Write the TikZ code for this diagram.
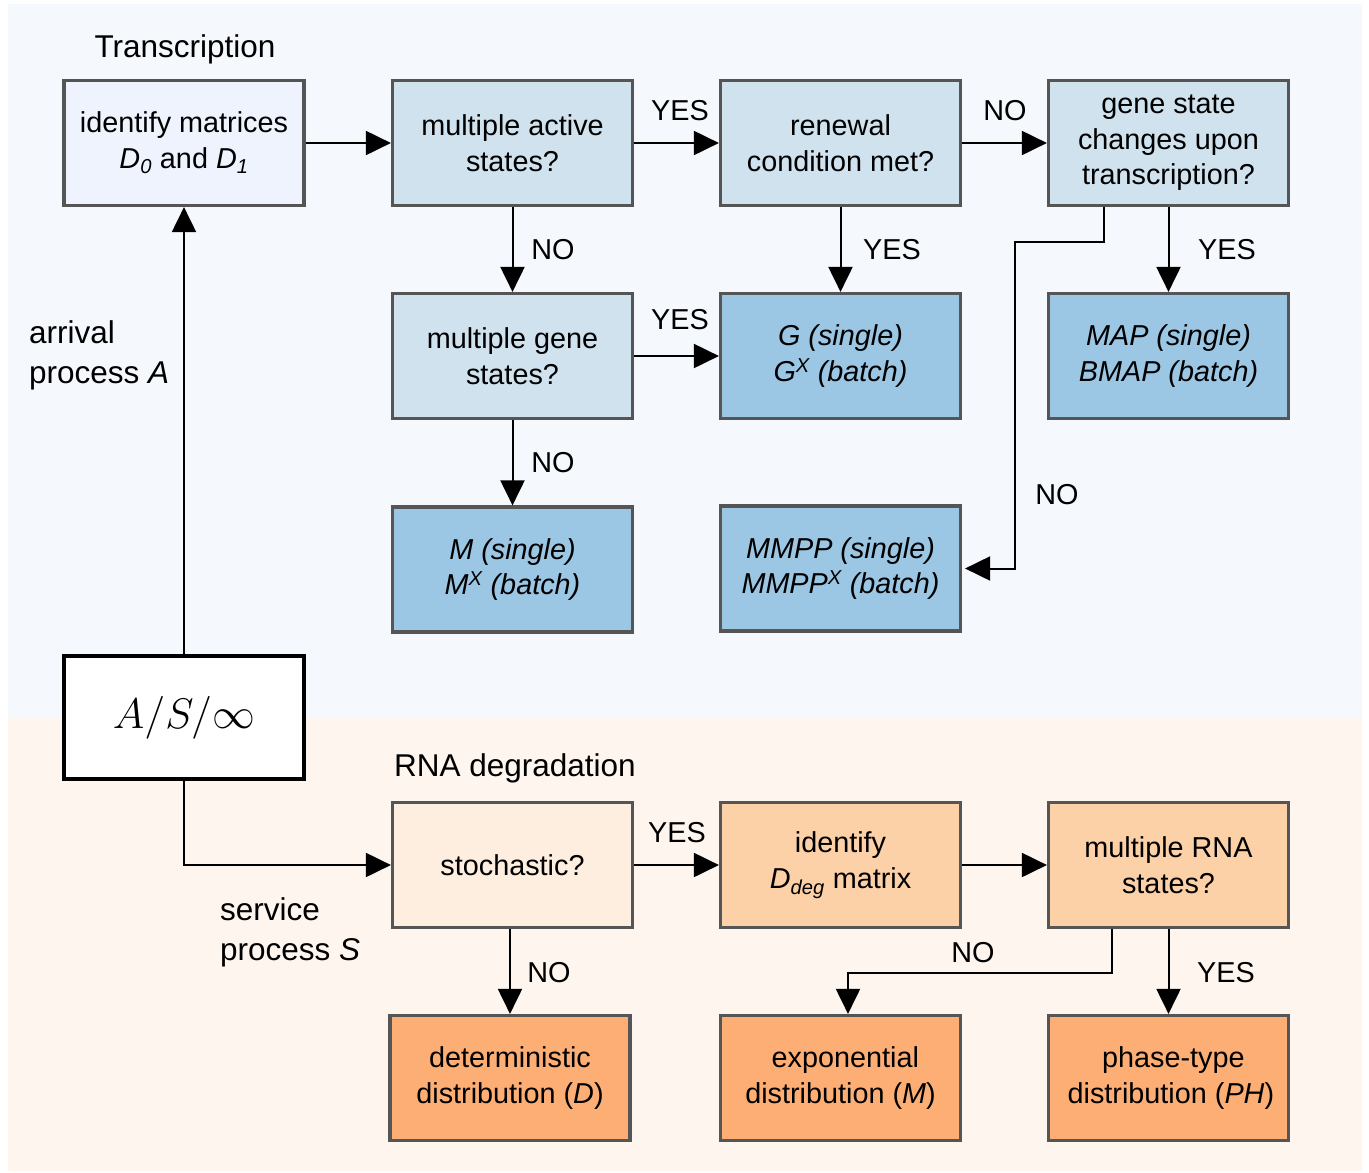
\documentclass[tikz,border=0pt]{standalone}
\usepackage[no-math]{fontspec}
\setmainfont{Liberation Sans}
\usetikzlibrary{arrows.meta}
\definecolor{bgtop}{HTML}{F5F8FD}
\definecolor{bgbot}{HTML}{FDF5EE}
\definecolor{bordergray}{HTML}{555555}
\definecolor{cpale}{HTML}{EEF3FD}
\definecolor{cqblue}{HTML}{D0E2EE}
\definecolor{crblue}{HTML}{9BC6E4}
\definecolor{cpaleor}{HTML}{FDEEDF}
\definecolor{cqor}{HTML}{FDD1A8}
\definecolor{cror}{HTML}{FDAE75}
\newcommand\myfont{\fontsize{28.8}{35.5}\selectfont}
\newcommand\myfontL{\fontsize{31.5}{40}\selectfont}
\begin{document}
\begin{tikzpicture}[x=1pt,y=-1pt,
  box/.style={draw=bordergray, line width=3.2pt, minimum width=240pt, minimum height=125pt, align=center, inner sep=0pt, font=\myfont},
  pale/.style={box, fill=cpale},
  qb/.style={box, fill=cqblue},
  rb/.style={box, fill=crblue},
  po/.style={box, fill=cpaleor},
  qo/.style={box, fill=cqor},
  ro/.style={box, fill=cror},
  arr/.style={line width=2pt, -{Triangle[length=25pt,width=24pt]}},
  lbl/.style={font=\myfont, inner sep=0pt},
  ttl/.style={font=\myfontL, inner sep=0pt, align=left}]
\useasboundingbox (0,0) rectangle (1369,1173);
\fill[bgtop] (8,4) rectangle (1362,718);
\fill[bgbot] (8,718) rectangle (1362,1171);

% titles
\node[ttl] (ttrans) at (185,49) {Transcription};
\node[ttl] (tdeg) at (515,768) {RNA degradation};
\node[ttl, anchor=west] (tarr) at (29,355) {arrival\\process \textit{A}};
\node[ttl, anchor=west] (tserv) at (220,932) {service\\process \textit{S}};

% boxes
\node[pale] (dmat) at (184,143) {identify matrices\\\textit{D\textsubscript{0}} and \textit{D\textsubscript{1}}};
\node[qb] (active) at (512.5,143) {multiple active\\states?};
\node[qb] (renew) at (840.5,143) {renewal\\condition met?};
\node[qb] (gstate) at (1168.5,143) {gene state\\changes upon\\transcription?};
\node[qb] (mgene) at (512.5,356) {multiple gene\\states?};
\node[rb] (G) at (840.5,356) {\textit{G (single)}\\\textit{G\textsuperscript{X} (batch)}};
\node[rb] (MAP) at (1168.5,356) {\textit{MAP (single)}\\\textit{BMAP (batch)}};
\node[rb] (M) at (512.5,569.5) {\textit{M (single)}\\\textit{M\textsuperscript{X} (batch)}};
\node[rb] (MMPP) at (840.5,568.5) {\textit{MMPP (single)}\\\textit{MMPP\textsuperscript{X} (batch)}};
\node[draw=black, fill=white, line width=4.5pt, minimum width=240pt, minimum height=123pt, inner sep=0pt] (AS) at (184,717.5) {\scalebox{1.72}{\Huge $A/S/\infty$}};
\node[po] (stoch) at (512.5,865) {stochastic?};
\node[qo] (ident) at (840.5,865) {identify\\\textit{D\textsubscript{deg}} matrix};
\node[qo] (mrna) at (1168.5,865) {multiple RNA\\states?};
\node[ro] (det) at (510,1078) {deterministic\\distribution (\textit{D})};
\node[ro] (expo) at (840.5,1078) {\,\,exponential\\distribution (\textit{M})};
\node[ro] (ph) at (1168.5,1078) {\,\,phase-type\\\,distribution (\textit{PH})};

% connectors
\draw[arr] (dmat) -- (active);
\draw[arr] (active) -- (renew);
\draw[arr] (renew) -- (gstate);
\draw[arr] (active) -- (mgene);
\draw[arr] (renew) -- (G);
\draw[arr] (gstate) -- (MAP);
\draw[arr] (mgene) -- (G);
\draw[arr] (mgene) -- (M);
\coordinate (g1) at (1104,242);
\coordinate (g2) at (1015,242);
\draw[arr, shorten >=3pt] (gstate.south -| g1) -- (g1) -- (g2) |- (MMPP.east);
\draw[arr] (AS) -- (dmat);
\draw[arr] (AS.south) |- (stoch.west);
\draw[arr] (stoch) -- (ident);
\draw[arr] (ident) -- (mrna);
\draw[arr] (stoch.south -| det.north) -- (det.north);
\coordinate (r1) at (1112,973);
\coordinate (r2) at (848,973);
\draw[arr] (mrna.south -| r1) -- (r1) -- (r2) -- (r2 |- expo.north);
\draw[arr] (mrna) -- (ph);

% edge labels
\node[lbl] (l1) at (680,111) {YES};
\node[lbl] (l2) at (1005,111) {NO};
\node[lbl] (l3) at (553,250) {NO};
\node[lbl] (l4) at (892,250) {YES};
\node[lbl] (l5) at (1227,250) {YES};
\node[lbl] (l6) at (680,320) {YES};
\node[lbl] (l7) at (553,463) {NO};
\node[lbl] (l8) at (1057,495) {NO};
\node[lbl] (l9) at (677,833) {YES};
\node[lbl] (l10) at (549,973) {NO};
\node[lbl] (l11) at (973,953) {NO};
\node[lbl] (l12) at (1226,973) {YES};
\end{tikzpicture}
\end{document}
